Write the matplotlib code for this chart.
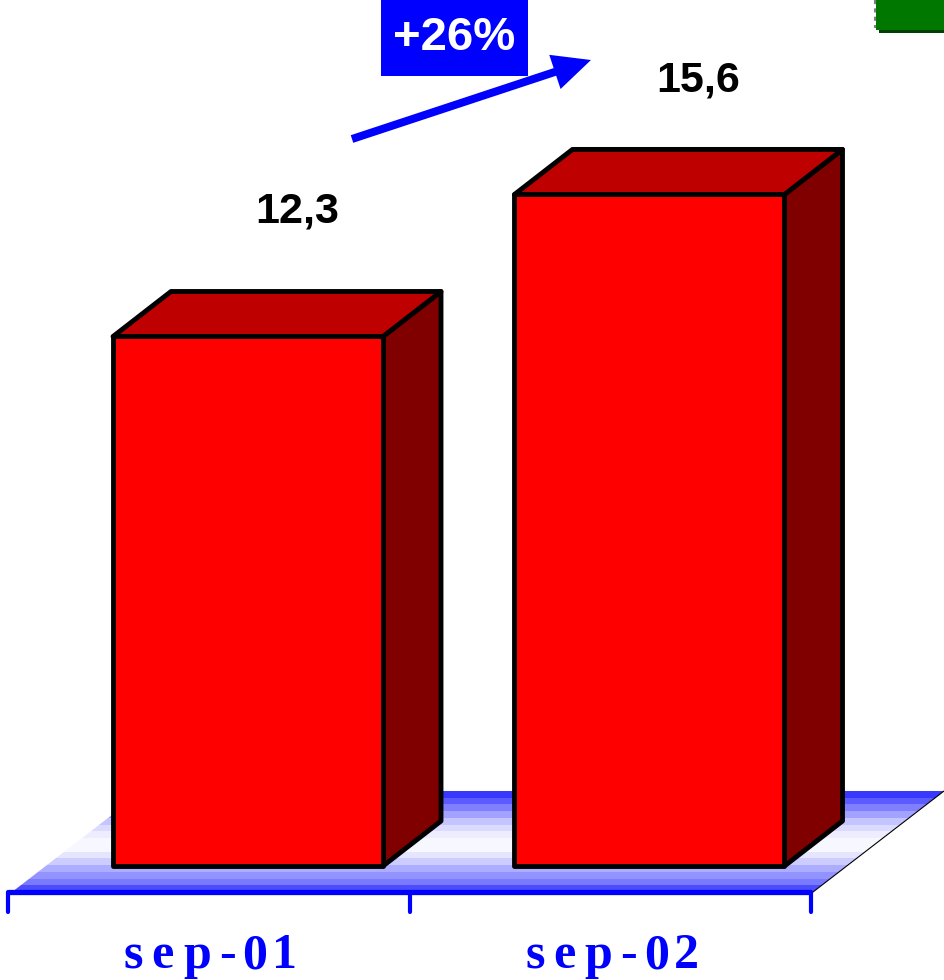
import matplotlib
matplotlib.use("Agg")
import matplotlib.pyplot as plt
import numpy as np
from matplotlib.patches import Polygon, Rectangle

# ---------------- data ----------------
categories = ["sep-01", "sep-02"]
values = [12.3, 15.6]
value_labels = ["12,3", "15,6"]
growth_label = "+26%"

# ---------------- figure ----------------
W, H, DPI = 945, 980, 100
fig = plt.figure(figsize=(W / DPI, H / DPI), dpi=DPI)
fig.patch.set_facecolor("white")

# pixel axes for background decoration (floor, arrow, badge)
pax = fig.add_axes([0, 0, 1, 1])
pax.set_xlim(0, W)
pax.set_ylim(H, 0)
pax.axis("off")

# data axes: x = category index, y = value
X0_PX, X_STEP_PX = 209.0, 401.5     # category centre on the axis
Y0_PX, Y_STEP_PX = 866.0, 43.05     # value 0 baseline, px per unit
ax = fig.add_axes([0, 0, 1, 1])
ax.set_xlim(-X0_PX / X_STEP_PX, (W - X0_PX) / X_STEP_PX)
ax.set_ylim(-(H - Y0_PX) / Y_STEP_PX, Y0_PX / Y_STEP_PX)
ax.axis("off")
ax.patch.set_alpha(0)

def dx(px):
    return px / X_STEP_PX

def dy(px):
    return px / Y_STEP_PX

# ---------------- floor (pixel coords) ----------------
floor = np.array([[12, 892], [813, 892], [944, 791], [143, 791]])
whites = [0.22, 0.36, 0.50, 0.64, 0.77, 0.86, 0.93, 0.97, 0.97, 0.90,
          0.80, 0.68, 0.58, 0.48, 0.30]
grad = np.array([[(w, w, 1.0)] for w in whites])
im = pax.imshow(grad, extent=(0, W, 892, 791), aspect="auto",
                interpolation="nearest", zorder=1)
clip = Polygon(floor, closed=True, transform=pax.transData, facecolor="none",
               edgecolor="none")
pax.add_patch(clip)
im.set_clip_path(clip)
pax.plot([813, 944], [892, 791], color="black", lw=0.8, zorder=2)

# ---------------- axis line + ticks ----------------
axis_y = dy(Y0_PX - 892)
tick_y = dy(Y0_PX - 912)
n = len(categories)
ax.plot([-0.5, n - 0.5], [axis_y, axis_y], color="#0000FF", lw=3.8,
        solid_capstyle="butt", zorder=3)
for t in np.arange(-0.5, n, 1.0):
    ax.plot([t, t], [axis_y, tick_y], color="#0000FF", lw=3.0,
            solid_capstyle="round", zorder=3)

# ---------------- 3D bars ----------------
bar_shift = dx(39)
bar_w = dx(270)
depth_x = dx(58)
depth_y = dy(45)
edge_lw = 3.5
label_offsets = [2.65, 2.4]
for i, v in enumerate(values):
    xc = i + bar_shift
    xl, xr = xc - bar_w / 2, xc + bar_w / 2
    side = Polygon([[xr, 0], [xr + depth_x, depth_y], [xr + depth_x, v + depth_y], [xr, v]],
                   closed=True, facecolor="#800000", edgecolor="black", lw=edge_lw,
                   joinstyle="round", zorder=5)
    top = Polygon([[xl, v], [xr, v], [xr + depth_x, v + depth_y], [xl + depth_x, v + depth_y]],
                  closed=True, facecolor="#BE0000", edgecolor="black", lw=edge_lw,
                  joinstyle="round", zorder=5)
    front = Polygon([[xl, 0], [xr, 0], [xr, v], [xl, v]], closed=True,
                    facecolor="#FF0000", edgecolor="black", lw=edge_lw,
                    joinstyle="round", zorder=6)
    for p in (side, top, front):
        ax.add_patch(p)
    ax.text(xc + dx(49), v + label_offsets[i], value_labels[i], ha="center",
            va="baseline", fontsize=31, fontweight="bold",
            family="Liberation Sans", color="black", zorder=7)

# ---------------- category labels (spaced serif letters) ----------------
char_offsets_px = [-75.5, -46.5, -12, 18.5, 46, 76]
label_y = dy(Y0_PX - 968)
for i, cat in enumerate(categories):
    for ch, off in zip(cat, char_offsets_px):
        ax.text(i + dx(off), label_y, ch, ha="center", va="baseline",
                fontsize=36, fontweight="bold", family="Liberation Serif",
                color="#0000FF", zorder=7)

# ---------------- growth arrow + badge (pixel coords) ----------------
pax.arrow(352, 139, 591 - 352, 60 - 139, width=8, head_width=36,
          head_length=38, length_includes_head=True, color="#0000FF",
          lw=0, zorder=4)
pax.add_patch(Rectangle((381, 0), 147, 76, facecolor="#0000FF",
                        edgecolor="none", zorder=4))
pax.text(454, 38, growth_label, ha="center", va="center", color="white",
         fontsize=34, fontweight="bold", family="Liberation Sans", zorder=5)

# small green box at top-right corner
pax.add_patch(Rectangle((879, 2), 70, 31, facecolor="#004000",
                        edgecolor="none", zorder=4))
pax.add_patch(Rectangle((876, -2), 72, 32, facecolor="#007800",
                        edgecolor="none", zorder=5))
pax.plot([875, 875], [0, 28], color="#808080", lw=1.5, ls=(0, (2, 2)), zorder=5)

fig.savefig("out.png", dpi=DPI, facecolor="white")
